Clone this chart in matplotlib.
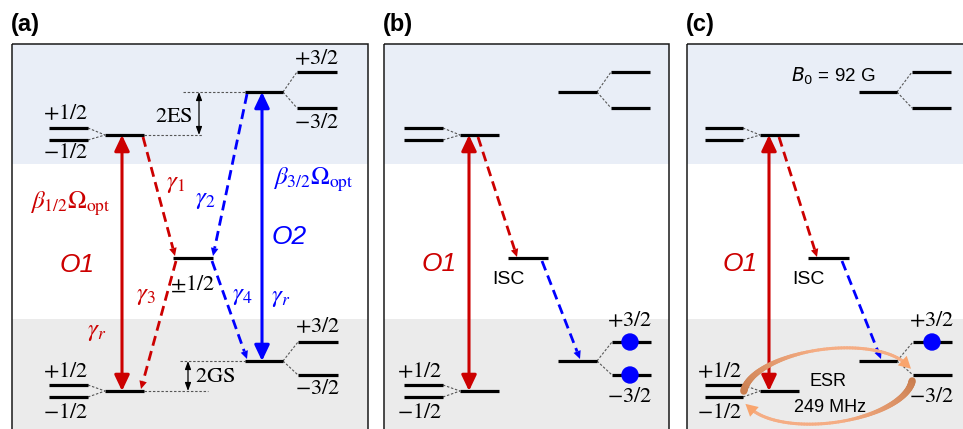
import numpy as np
import matplotlib
matplotlib.use("Agg")
import matplotlib.pyplot as plt
from matplotlib.patches import Rectangle, Polygon, FancyArrowPatch, Circle
from matplotlib.collections import LineCollection
from matplotlib.colors import to_rgb

plt.rcParams['mathtext.fontset'] = 'stix'
plt.rcParams['font.family'] = ['Liberation Sans', 'DejaVu Sans']

# ---------------- data (energy levels, pixel-space layout of the diagram) -------------
panel_labels = ["(a)", "(b)", "(c)"]
panel_left = [12, 384, 687]
panel_right = [368, 669, 975]
panel_top = 44
band_es_bottom = 164      # excited-state band (blue)
band_gs_top = 319         # ground-state band (gray)

# energies (pixel rows)
E_es_half = 135
E_es_half_split = [128, 140]
E_es_three = 92
E_es_three_split = [72, 108]
E_ms = 258
E_gs_half = 391
E_gs_half_split = [385, 397]
E_gs_three = 361
E_gs_three_split = [342, 375]

# level columns per panel: split1/2, center1/2, metastable, center3/2, split3/2
col_split_half = [(49, 88), (404, 443), (705, 743)]
col_half = [(105, 144), (460, 499), (760, 799)]
col_ms = [(173, 213), (508, 548), (808, 849)]
col_three = [(245, 283), (558, 597), (859, 897)]
col_split_three = [(297, 337), (611, 650), (912, 951)]

RED = '#cc0000'
BLUE = '#0000ff'
BAND_BLUE = '#e9eef7'
BAND_GRAY = '#ebebeb'

fig = plt.figure(figsize=(9.63, 4.29), dpi=100)
ax = fig.add_axes([0, 0, 1, 1])
ax.set_xlim(0, 963)
ax.set_ylim(429, 0)
ax.axis('off')


def level(x, y, lw=2.3):
    ax.plot(x, [y, y], color='black', lw=lw, solid_capstyle='butt', zorder=5)


def conn(x0, y0, x1, y1):
    ax.plot([x0, x1], [y0, y1], color='#555555', lw=0.8, dashes=(2.2, 1.6), zorder=4)


def dashed_arrow(p0, p1, color, hl=8, hw=3.8):
    p0 = np.array(p0, float); p1 = np.array(p1, float)
    d = p1 - p0
    u = d / np.hypot(*d)
    n = np.array([-u[1], u[0]])
    base = p1 - u * hl
    ax.plot([p0[0], base[0]], [p0[1], base[1]], color=color, lw=2.0,
            dashes=(3.6, 2.0), solid_capstyle='butt', zorder=6)
    ax.add_patch(Polygon([p1, base + n * hw, base - n * hw], closed=True,
                         color=color, lw=0, zorder=6))


def double_arrow(x, y0, y1, color, lw=2.2, hl=0.95, hw=0.45, ms=10):
    ax.add_patch(FancyArrowPatch((x, y0), (x, y1),
                                 arrowstyle=f'<|-|>,head_length={hl},head_width={hw}',
                                 mutation_scale=ms, lw=lw, color=color,
                                 shrinkA=0, shrinkB=0, zorder=7))


def serif(x, y, s, size=16, color='black'):
    ax.text(x, y, s, ha='center', va='center', fontsize=size, color=color, zorder=8)


# ---------------- panels -------------
for i in range(3):
    L, R = panel_left[i], panel_right[i]
    W = R - L
    ax.add_patch(Rectangle((L, panel_top), W, band_es_bottom - panel_top,
                           facecolor=BAND_BLUE, lw=0, zorder=0))
    ax.add_patch(Rectangle((L, band_es_bottom), W, band_gs_top - band_es_bottom,
                           facecolor='white', lw=0, zorder=0))
    ax.add_patch(Rectangle((L, band_gs_top), W, 440 - band_gs_top,
                           facecolor=BAND_GRAY, lw=0, zorder=0))
    ax.add_patch(Rectangle((L, panel_top), W, 440 - panel_top, fill=False,
                           edgecolor='#1a1a1a', lw=1.1, zorder=10))
    ax.text(L - 1, 24, panel_labels[i], fontsize=17, fontweight='bold',
            ha='left', va='center', color='black')

    # levels
    sh, hf, ms, th, st = (col_split_half[i], col_half[i], col_ms[i],
                          col_three[i], col_split_three[i])
    for y in E_es_half_split:
        level(sh, y)
        conn(sh[1], y, hf[0], E_es_half)
    level(hf, E_es_half)
    for y in E_gs_half_split:
        level(sh, y)
        conn(sh[1], y, hf[0], E_gs_half)
    level(hf, E_gs_half)
    level(ms, E_ms)
    level(th, E_es_three)
    level(th, E_gs_three)
    for y in E_es_three_split:
        level(st, y)
        conn(th[1], E_es_three, st[0], y)
    st_g = (st[0] + 1, st[1] + 1)
    for y in E_gs_three_split:
        level(st_g, y)
        conn(th[1], E_gs_three, st_g[0], y)

# ---------------- panel (a) annotations -------------
# guides for 2ES / 2GS
conn(144, E_es_half, 203, E_es_half)
conn(183, E_es_three, 245, E_es_three)
conn(144, E_gs_half, 208, E_gs_half)
conn(180, E_gs_three, 245, E_gs_three)
ax.add_patch(FancyArrowPatch((199, E_es_three), (199, E_es_half),
                             arrowstyle='<|-|>,head_length=0.6,head_width=0.22',
                             mutation_scale=8, lw=0.9, color='black',
                             shrinkA=0, shrinkB=0, zorder=7))
ax.add_patch(FancyArrowPatch((188, E_gs_three), (188, E_gs_half),
                             arrowstyle='<|-|>,head_length=0.6,head_width=0.22',
                             mutation_scale=8, lw=0.9, color='black',
                             shrinkA=0, shrinkB=0, zorder=7))
serif(174, 117, r'$2\mathrm{ES}$', 16)
serif(215, 376, r'$2\mathrm{GS}$', 16)

serif(66, 114, r'$+1/2$')
serif(66, 153, r'$-1/2$')
serif(317, 59, r'$+3/2$')
serif(317, 122, r'$-3/2$')
serif(66, 372, r'$+1/2$')
serif(66, 412, r'$-1/2$')
serif(318, 327, r'$+3/2$')
serif(318, 388, r'$-3/2$')
serif(193, 284, r'$\pm1/2$')

double_arrow(122, E_es_half, E_gs_half, RED)
double_arrow(262, E_es_three, E_gs_three, BLUE)
dashed_arrow((143, 137), (175, 256), RED)
dashed_arrow((247, 94), (213, 256), BLUE)
dashed_arrow((176, 261), (141, 389), RED)
dashed_arrow((212, 261), (247, 359), BLUE)

serif(70, 204, r'$\beta_{1/2}\Omega_{\mathrm{opt}}$', 18, RED)
serif(313, 180, r'$\beta_{3/2}\Omega_{\mathrm{opt}}$', 18, BLUE)
serif(176, 183, r'$\gamma_1$', 18, RED)
serif(205, 199, r'$\gamma_2$', 18, BLUE)
serif(146, 295, r'$\gamma_3$', 18, RED)
serif(242, 295, r'$\gamma_4$', 18, BLUE)
serif(97, 331, r'$\gamma_r$', 18, RED)
serif(281, 297, r'$\gamma_r$', 18, BLUE)
ax.text(77, 265, 'O1', fontsize=19, style='italic', color=RED, ha='center', va='center')
ax.text(289, 237, 'O2', fontsize=19, style='italic', color=BLUE, ha='center', va='center')

# ---------------- panels (b) and (c) -------------
o1_x = [None, 439, 740]
arrow_x = [None, 469, 769]
red_dash = [None, ((478, 137), (517, 257)), ((779, 137), (817, 257))]
blue_dash = [None, ((542, 261), (580, 359)), ((842, 261), (881, 359))]
isc_x = [None, 508, 808]
lab_half_x = [None, 420, 720]
lab_three_x = [None, 630, 932]
for i in (1, 2):
    double_arrow(arrow_x[i], E_es_half, E_gs_half, RED)
    dashed_arrow(*red_dash[i], RED)
    dashed_arrow(*blue_dash[i], BLUE)
    ax.text(o1_x[i], 264, 'O1', fontsize=19, style='italic', color=RED,
            ha='center', va='center')
    ax.text(isc_x[i], 280, 'ISC', fontsize=14, color='black', ha='center', va='center')
    serif(lab_half_x[i], 372, r'$+1/2$')
    serif(lab_half_x[i], 412, r'$-1/2$')
    serif(lab_three_x[i], 321, r'$+3/2$')
    serif(lab_three_x[i], 397, r'$-3/2$')

# population dots
dot_x = [630, 630, 932]
dot_y = [E_gs_three_split[0], E_gs_three_split[1], E_gs_three_split[0]]
for x, y in zip(dot_x, dot_y):
    ax.add_patch(Circle((x, y), 8, color=BLUE, zorder=9))

ax.text(833, 76, r'$\mathit{B}_0$ = 92 G', fontsize=13.5, ha='center', va='center',
        math_fontfamily='dejavusans')

# ---------------- ESR loop (panel c) -------------
cx, cy, ea, eb, phi = 828, 386, 85, 37, np.deg2rad(7)


def epoint(th):
    xl, yl = ea * np.cos(th), eb * np.sin(th)
    xr = xl * np.cos(phi) - yl * np.sin(phi)
    yr = xl * np.sin(phi) + yl * np.cos(phi)
    return cx + xr, cy - yr


def esr_arc(t0, t1):
    th = np.deg2rad(np.linspace(t0, t1, 80))
    xs, ys = epoint(th)
    pts = np.column_stack([xs, ys])
    segs = np.stack([pts[:-1], pts[1:]], axis=1)
    s = np.linspace(0, 1, len(segs))
    c0, c1 = np.array(to_rgb('#c97d4e')), np.array(to_rgb('#f5ad84'))
    cols = [tuple(c0 * (1 - v) + c1 * v) for v in np.clip(s * 2.0, 0, 1)]
    lws = 3.0 * (1 - np.clip(s * 2.2, 0, 1)) + 2.2
    ax.add_collection(LineCollection(segs, colors=cols, linewidths=lws,
                                     capstyle='round', zorder=8))
    tip = pts[-1]
    d = pts[-1] - pts[-4]
    u = d / np.hypot(*d)
    n = np.array([-u[1], u[0]])
    hl, hw = 12, 6.5
    tip2 = tip + u * 5
    base = tip2 - u * hl
    ax.add_patch(Polygon([tip2, base + n * hw, base - n * hw], closed=True,
                         color='#f8a46d', lw=0, zorder=8))


esr_arc(172, 17)
esr_arc(-8, -162)
ax.text(828, 382, 'ESR', fontsize=13, ha='center', va='center', zorder=9)
ax.text(830, 407, '249 MHz', fontsize=13, ha='center', va='center', zorder=9)

fig.savefig('out.png', dpi=100)
